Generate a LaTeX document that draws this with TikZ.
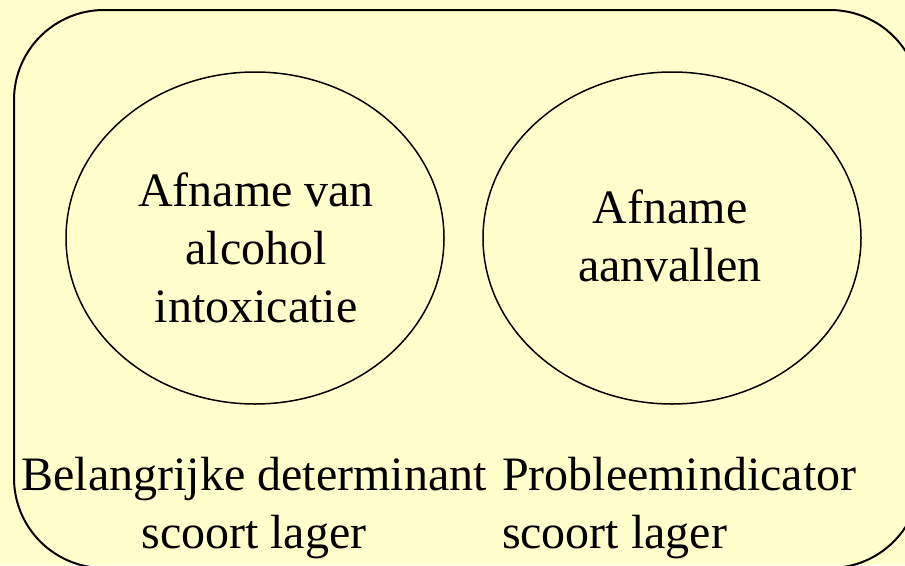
\documentclass[tikz,border=0pt]{standalone}
\usepackage{fontspec}
\setmainfont{Liberation Serif}
\usetikzlibrary{shapes.geometric}
\definecolor{bgyellow}{HTML}{FFFFCC}
\begin{document}
\begin{tikzpicture}[x=1pt,y=-1pt,
  lbl/.style={font=\fontsize{48}{57.6}\selectfont, inner sep=0pt, outer sep=0pt},
  oval/.style={draw=black, line width=1.5pt, ellipse, inner sep=0pt, minimum width=378pt, minimum height=332pt}]
\fill[bgyellow] (0,0) rectangle (905,565);
\useasboundingbox (0,0) rectangle (905,565);
\begin{scope}
\clip (0,0) rectangle (905,565);
\draw[line width=2pt, rounded corners=90pt] (14,10) rectangle (920,568);
\end{scope}
\node[oval] (e1) at (255,238) {};
\node[oval] (e2) at (672,238) {};
\node[lbl, align=center, anchor=base] (t1) at (256,322) {Afname van\\alcohol\\intoxicatie};
\node[lbl, align=center, anchor=base] (t2) at (670,281) {Afname\\aanvallen};
\node[lbl, align=center, anchor=base] (t3) at (254,548) {Belangrijke determinant\\scoort lager};
\node[lbl, align=left, anchor=base west] (t4) at (502,548) {Probleemindicator\\scoort lager};
\end{tikzpicture}
\end{document}
